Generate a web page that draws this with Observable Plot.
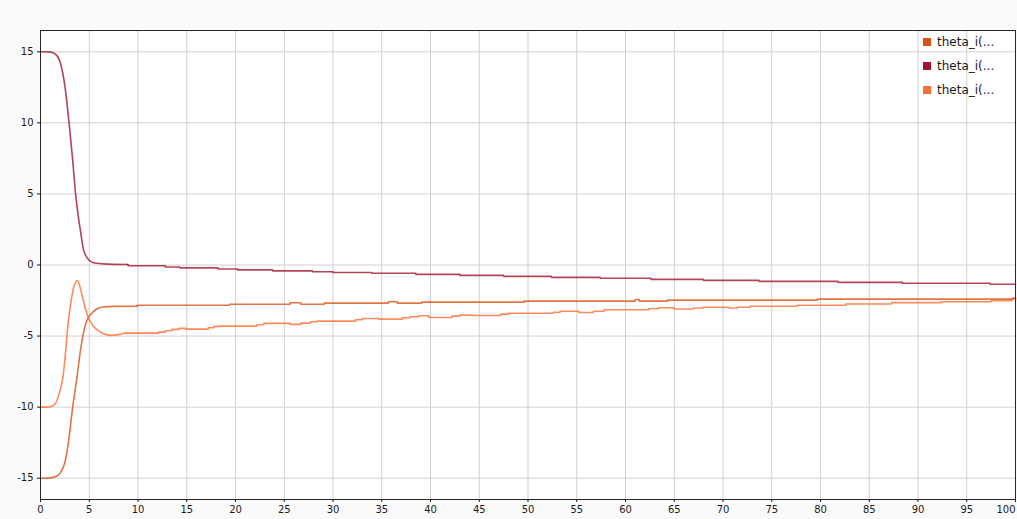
<!DOCTYPE html>
<html><head><meta charset="utf-8">
<script src="https://cdn.jsdelivr.net/npm/d3@7"></script>
<script src="https://cdn.jsdelivr.net/npm/@observablehq/plot@0.6"></script>
<style>
body{margin:0;background:#fafafa;}
#wrap{position:relative;width:1017px;height:519px;}
#legend{position:absolute;left:923px;top:30px;font:12px "DejaVu Sans",sans-serif;color:#1a1a1a;}
.item{display:flex;align-items:center;height:24px;white-space:nowrap;}
.sw{width:8px;height:8px;margin-right:6px;flex:none;}
</style></head><body><div id="wrap"><div id="legend"></div></div>
<script>
// ---- data ----
const seriesNames = ["theta_i(...", "theta_i(...", "theta_i(..."];
const seriesColors = ["#d95319", "#a2142f", "#ff6e35"];
const xTicks = [0,5,10,15,20,25,30,35,40,45,50,55,60,65,70,75,80,85,90,95,100];
const yTicks = [-15,-10,-5,0,5,10,15];

// series 1: transient then stepped tail ([time, value], step value holds from time)
const th1Rise = [[0,-15],[0.5,-15],[1.0,-14.98],[1.5,-14.9],[2.0,-14.65],[2.5,-13.9],[2.9,-12.3],[3.3,-10.0],[3.7,-8.1],[4.1,-6.0],[4.4,-4.8],[4.7,-4.0],[5.0,-3.6],[5.4,-3.3],[5.8,-3.08],[6.4,-2.95],[7.5,-2.91],[9.9,-2.9]];
const th1Steps = [[9.9,-2.83],[19.4,-2.76],[25.6,-2.66],[26.7,-2.76],[29.1,-2.68],[35.7,-2.59],[36.6,-2.68],[39.1,-2.61],[49.6,-2.54],[61.0,-2.43],[61.4,-2.54],[64.3,-2.47],[79.7,-2.40],[99.7,-2.33]];

// series 2
const th2Rise = [[0,15],[0.5,15],[1.0,14.98],[1.5,14.85],[2.0,14.3],[2.5,12.6],[2.9,10.2],[3.3,7.4],[3.6,5.0],[3.9,3.3],[4.1,2.4],[4.4,1.1],[4.7,0.6],[5.0,0.32],[5.4,0.18],[5.8,0.12],[7.0,0.06],[8.9,0.03]];
const th2Steps = [[9.0,-0.05],[12.8,-0.14],[14.3,-0.2],[18.2,-0.28],[20.2,-0.34],[23.8,-0.41],[27.9,-0.47],[30.0,-0.53],[34.0,-0.58],[38.5,-0.66],[43.0,-0.73],[47.5,-0.8],[52.4,-0.87],[57.4,-0.93],[62.6,-1.01],[68.0,-1.08],[73.7,-1.15],[81.8,-1.22],[88.4,-1.28],[97.4,-1.35]];

// series 3
const th3Rise = [[0,-10],[0.5,-10],[1.0,-9.97],[1.5,-9.78],[2.05,-8.7],[2.3,-7.9],[2.45,-7.0],[2.6,-5.9],[2.8,-4.3],[3.1,-2.7],[3.4,-1.6],[3.6,-1.2],[3.76,-1.09],[3.95,-1.3],[4.2,-1.95],[4.5,-2.8],[4.9,-3.7],[5.3,-4.2],[5.8,-4.55],[6.4,-4.82],[7.2,-4.95],[8.0,-4.9],[8.7,-4.79]];
const th3Steps = [[8.7,-4.79],[12.1,-4.72],[12.8,-4.63],[13.5,-4.53],[14.2,-4.46],[14.9,-4.51],[17.2,-4.41],[17.8,-4.32],[18.5,-4.30],[22.2,-4.2],[22.9,-4.11],[25.6,-4.18],[26.7,-4.09],[27.7,-3.99],[28.4,-3.95],[32.3,-3.85],[33.0,-3.76],[34.7,-3.81],[37.1,-3.71],[37.9,-3.64],[38.8,-3.57],[39.8,-3.69],[42.2,-3.6],[43.0,-3.53],[44.3,-3.55],[47.2,-3.46],[48.0,-3.39],[52.6,-3.32],[53.3,-3.25],[55.2,-3.34],[56.7,-3.25],[57.8,-3.15],[62.4,-3.08],[63.4,-3.01],[65.0,-3.1],[67.0,-3.03],[68.0,-2.97],[70.6,-3.03],[71.5,-2.97],[72.8,-2.9],[77.6,-2.83],[82.6,-2.74],[87.3,-2.65],[92.4,-2.59],[97.5,-2.52],[99.6,-2.38]];

const tEnd = 100;

function riseData(rise) {
  return rise.map(([t, v]) => ({t, v}));
}
function tailData(rise, steps) {
  let [t0, prev] = rise[rise.length - 1];
  const pts = [{t: t0, v: prev}];
  for (const [t, v] of steps) {
    pts.push({t, v: prev});
    pts.push({t, v});
    prev = v;
  }
  pts.push({t: tEnd, v: prev});
  return pts;
}
const rises = [th1Rise, th2Rise, th3Rise];
const tails = [th1Steps, th2Steps, th3Steps];

const lineStyle = i => ({x: "t", y: "v", stroke: seriesColors[i], strokeWidth: 1.6, strokeOpacity: 0.8});

const fmt = d => String(d);
const axisStyle = {tickSize: 3, tickPadding: 3, tickFormat: fmt, label: null};

const chart = Plot.plot({
  width: 1017, height: 519,
  marginLeft: 40, marginRight: 2, marginTop: 30, marginBottom: 20,
  style: {background: "transparent", fontFamily: "'DejaVu Sans', sans-serif", fontSize: "10px", color: "#1a1a1a"},
  x: {domain: [0, 100]},
  y: {domain: [-16.5, 16.5]},
  marks: [
    Plot.frame({fill: "white", stroke: null}),
    Plot.gridX(xTicks, {stroke: "#d0d0d0", strokeOpacity: 1}),
    Plot.gridY(yTicks, {stroke: "#d0d0d0", strokeOpacity: 1}),
    ...rises.map((r, i) => Plot.line(riseData(r), {...lineStyle(i), curve: "monotone-x"})),
    ...rises.map((r, i) => Plot.line(tailData(r, tails[i]), lineStyle(i))),
    Plot.frame({stroke: "#262626"}),
    Plot.axisX(xTicks.slice(0, -1), axisStyle),
    Plot.axisX(xTicks.slice(-1), {...axisStyle, textAnchor: "end"}),
    Plot.axisY(yTicks, {...axisStyle, tickPadding: 4})
  ]
});
document.getElementById("wrap").prepend(chart);

const legend = document.getElementById("legend");
seriesNames.forEach((n, i) => {
  const it = document.createElement("div");
  it.className = "item";
  const sw = document.createElement("div");
  sw.className = "sw";
  sw.style.background = seriesColors[i];
  const tx = document.createElement("span");
  tx.textContent = n;
  it.append(sw, tx);
  legend.append(it);
});
</script>
</body></html>
